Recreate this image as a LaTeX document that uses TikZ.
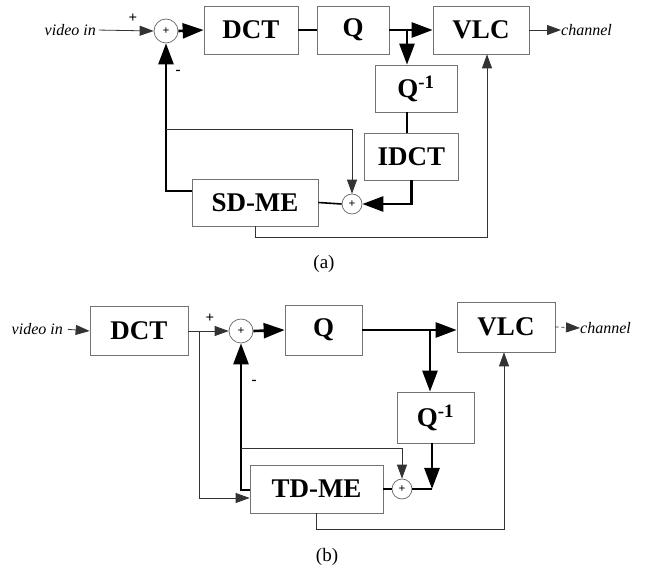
\documentclass[tikz,border=0pt]{standalone}
\usepackage{fontspec}
\setmainfont{Liberation Serif}
\usetikzlibrary{arrows.meta}

\tikzset{
  blk/.style={draw=black!55, line width=0.7pt, minimum height=48pt, inner sep=0pt,
    font=\bfseries\fontsize{27}{30}\selectfont},
  sum/.style={circle, draw=black!60, line width=0.7pt, minimum size=24pt, inner sep=0pt,
    font=\bfseries\fontsize{12}{12}\selectfont},
  lbl/.style={font=\itshape\fontsize{16}{18}\selectfont, inner sep=0pt},
  sign/.style={font=\bfseries\fontsize{15}{16}\selectfont, inner sep=0pt},
  fat/.style={line width=2.6pt},
  med/.style={line width=1.6pt},
  thinl/.style={line width=0.8pt, black!80},
  bigarr/.style={-{Triangle[length=21pt,width=15pt]}},
  smallarr/.style={-{Triangle[length=14pt,width=10pt]}}
}

\begin{document}
\begin{tikzpicture}[x=1pt,y=-1pt]
\useasboundingbox (0,0) rectangle (649,572);
% (a)
\node [lbl, anchor=east] (vinA) at (96,30) {video in};
\node [sum] (sA1) at (166,31) {+};
\node [blk, minimum width=94pt] (dctA) at (251,30) {DCT};
\node [blk, minimum width=72pt] (qA) at (353,30) {Q};
\node [blk, minimum width=96pt] (vlcA) at (481,30) {VLC};
\node [blk, minimum width=82pt, minimum height=47pt] (qiA) at (416,88.5) {Q\textsuperscript{-1}};
\node [blk, minimum width=94pt, minimum height=47pt] (idctA) at (411.5,156.5) {IDCT};
\node [blk, minimum width=126pt, minimum height=47pt] (sdmeA) at (255,202.5) {SD-ME};
\node [sum, minimum size=20pt] (sA2) at (352,204) {+};
\node [lbl, anchor=west] (chA) at (561,30) {channel};
\node [sign] (pA) at (133,18) {+};
\node [sign] (mA) at (178,72) {-};
\node [font=\fontsize{19}{22}\selectfont] (capA) at (324,264) {(a)};
\coordinate (brA) at (407,30);
\coordinate (fbA) at ([yshift=11.5pt]sdmeA.west);
\coordinate (tapA) at (166,129);
\coordinate (retA) at (487,237);

\draw [thinl, smallarr, shorten <=3pt] (vinA.east) -- (sA1.west);
\draw [fat, bigarr] (sA1.east) -- (dctA.west);
\draw [fat] (dctA.east) -- (qA.west);
\draw [fat, bigarr] (qA.east) -- (vlcA.west);
\draw [fat, bigarr] (brA) -- (brA |- qiA.north);
\draw [fat] (qiA.south -| brA) -- (idctA.north -| brA);
\draw [fat, bigarr] (idctA.south) |- (sA2.east);
\draw [med] (sdmeA.east) -- (sA2.west);
\draw [fat, bigarr] (fbA) -| (sA1.south);
\draw [thinl, smallarr] (tapA) -| (sA2.north);
\draw [thinl, smallarr] (sdmeA.south) |- (retA) -- (retA |- vlcA.south);
\draw [thinl, smallarr] (vlcA.east) -- (chA.west);

% (b)
\node [lbl, anchor=east] (vinB) at (63,329) {video in};
\node [blk, minimum width=98pt, minimum height=49pt] (dctB) at (139,331) {DCT};
\node [sum] (sB1) at (241,331) {+};
\node [blk, minimum width=77pt, minimum height=50pt] (qB) at (323.5,330) {Q};
\node [blk, minimum width=98pt, minimum height=50pt] (vlcB) at (506,327) {VLC};
\node [blk, minimum width=77pt, minimum height=51pt] (qiB) at (435.5,417.5) {Q\textsuperscript{-1}};
\node [blk, minimum width=133pt] (tdmeB) at (316.5,489) {TD-ME};
\node [sum, minimum size=20pt] (sB2) at (402,489) {+};
\node [lbl, anchor=west] (chB) at (580,328) {channel};
\node [sign] (pB) at (210,318) {+};
\node [sign] (mB) at (254,382) {-};
\node [font=\fontsize{19}{22}\selectfont] (capB) at (327,557) {(b)};
\coordinate (tapB) at (199,331);
\coordinate (inB) at (199,498);
\coordinate (brB) at (430,330);
\coordinate (fbB) at (241,490);
\coordinate (tapB2) at (241,448);
\coordinate (cnB) at (432,489);
\coordinate (retB) at (504,529);

\draw [thinl, smallarr, shorten <=5pt] (vinB.east) -- (dctB.west);
\draw [thinl, smallarr] (dctB.east) -- (sB1.west);
\draw [fat, bigarr] (sB1.east) -- (qB.west);
\draw [fat, bigarr] (qB.east) -- (qB.east -| vlcB.west);
\draw [fat, bigarr] (brB) -- (brB |- qiB.north);
\draw [thinl, smallarr] (tapB) -- (inB) -- (inB -| tdmeB.west);
\draw [fat, bigarr] (tdmeB.west |- fbB) -- (fbB) -- (sB1.south);
\draw [thinl, smallarr] (tapB2) -| (sB2.north);
\draw [fat, bigarr] (qiB.south -| cnB) -- (cnB);
\draw [fat] (cnB) -- (sB2.east);
\draw [med] (tdmeB.east) -- (sB2.west);
\draw [thinl, smallarr] (tdmeB.south) |- (retB) -- (retB |- vlcB.south);
\draw [thinl, dashed, smallarr] (vlcB.east) -- (chB.west);
\end{tikzpicture}
\end{document}
